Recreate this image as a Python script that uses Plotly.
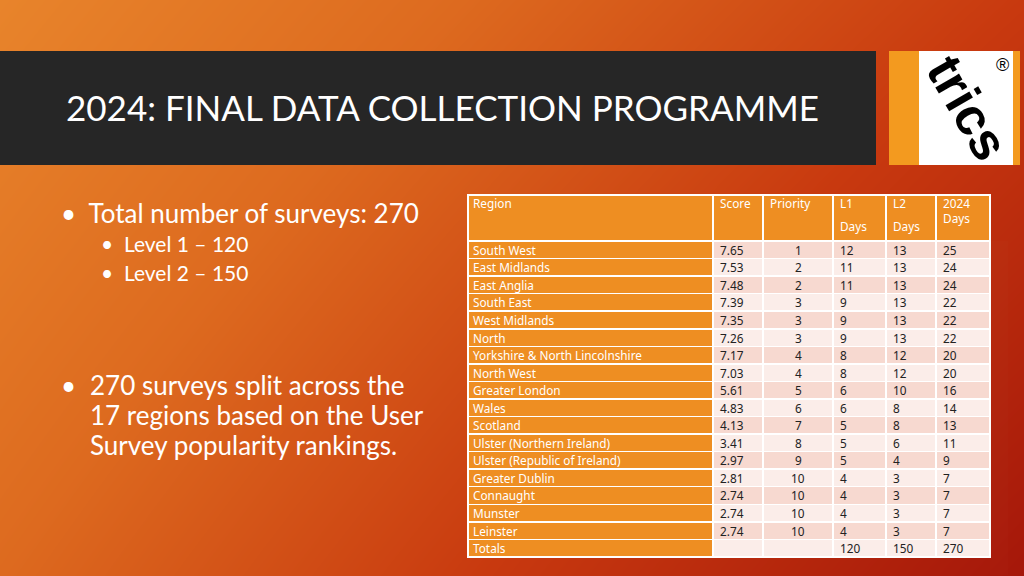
import plotly.graph_objects as go

# ---------------- data ----------------
regions = ["South West", "East Midlands", "East Anglia", "South East", "West Midlands", "North",
           "Yorkshire & North Lincolnshire", "North West", "Greater London", "Wales", "Scotland",
           "Ulster (Northern Ireland)", "Ulster (Republic of Ireland)", "Greater Dublin",
           "Connaught", "Munster", "Leinster"]
scores = ["7.65", "7.53", "7.48", "7.39", "7.35", "7.26", "7.17", "7.03", "5.61", "4.83", "4.13",
          "3.41", "2.97", "2.81", "2.74", "2.74", "2.74"]
priority = [1, 2, 2, 3, 3, 3, 4, 4, 5, 6, 7, 8, 9, 10, 10, 10, 10]
l1_days = [12, 11, 11, 9, 9, 9, 8, 8, 6, 6, 5, 5, 5, 4, 4, 4, 4]
l2_days = [13, 13, 13, 13, 13, 13, 12, 12, 10, 8, 8, 6, 4, 3, 3, 3, 3]
days_2024 = [25, 24, 24, 22, 22, 22, 20, 20, 16, 14, 13, 11, 9, 7, 7, 7, 7]
totals_label = "Totals"
totals = {"L1": 120, "L2": 150, "2024": 270}
header_top = ["Region", "Score", "Priority", "L1", "L2", "2024<br>Days"]
header_bottom = ["", "", "", "Days", "Days", ""]

title_text = "2024: FINAL DATA COLLECTION PROGRAMME"
bullets_main = ["Total number of surveys: 270"]
bullets_sub = ["Level 1 – 120", "Level 2 – 150"]
bullet_second = ["270 surveys split across the", "17 regions based on the User", "Survey popularity rankings."]

W, H = 1024, 576

def px(x):
    return x / W

def py(y):
    return 1 - y / H

fig = go.Figure()

# ---------------- background gradient ----------------
fig.add_trace(go.Heatmap(
    z=[[0.28, 1.0], [0.0, 0.62]], x=[0, 1], y=[0, 1],
    colorscale=[[0, "#E8842B"], [0.28, "#DD6A1F"], [0.62, "#C8390F"], [1, "#A5170A"]],
    zsmooth="best", showscale=False, hoverinfo="skip",
    xaxis="x", yaxis="y"))

# ---------------- table geometry ----------------
TBL_L, TBL_R, TBL_T = 468, 990, 195
HEAD_H, ROW_H = 46, 17.55
colw = [245, 50, 70, 53, 50, 54]
col_left = [sum(colw[:i]) for i in range(len(colw))]

n = len(regions)
col_region = regions + [totals_label]
col_score = scores + [""]
col_pri = [str(p) for p in priority] + [""]
col_l1 = [str(v) for v in l1_days] + [str(totals["L1"])]
col_l2 = [str(v) for v in l2_days] + [str(totals["L2"])]
col_24 = [str(v) for v in days_2024] + [str(totals["2024"])]
columns = [col_region, col_score, col_pri, col_l1, col_l2, col_24]

orange = "#EE8E22"
light_a = "#F7D9D0"
light_b = "#FBEDE9"
row_fill = [light_a if i % 2 == 0 else light_b for i in range(n)] + [light_b]

# cell fills and white rules
fig.add_trace(go.Table(
    domain=dict(x=[px(TBL_L), px(TBL_R)], y=[0, py(TBL_T)]),
    columnwidth=colw,
    header=dict(values=[""] * 6, fill_color=orange,
                line=dict(color="white", width=1.5), height=HEAD_H),
    cells=dict(values=[[""] * (n + 1)] * 6,
               fill_color=[[orange] * (n + 1)] + [row_fill] * 5,
               line=dict(color="white", width=1.5), height=ROW_H)))

annotations = []

# cell texts, placed on a pixel-mapped overlay axis (drawn above the table)
tfont = "Noto Sans"
TSIZE = 11.8
row_y = [TBL_T + HEAD_H + (i + 0.5) * ROW_H for i in range(n + 1)]
pads = [3, 5, None, 5, 5, 5]
for c, vals in enumerate(columns):
    for r, v in enumerate(vals):
        if v == "":
            continue
        if pads[c] is None:
            xv, xa = col_left[c] + colw[c] / 2, "center"
        else:
            xv, xa = col_left[c] + pads[c], "left"
        annotations.append(dict(
            text=v.replace("&", "&amp;"), x=xv, y=row_y[r], xref="x2", yref="y2",
            xanchor=xa, yanchor="middle", showarrow=False,
            font=dict(family=tfont, size=TSIZE, color="white" if c == 0 else "#222222")))

# header texts
for c in range(6):
    annotations.append(dict(
        text=header_top[c], x=col_left[c] + pads[c] if pads[c] else col_left[c] + 5, y=TBL_T - 2,
        xref="x2", yref="y2", xanchor="left", yanchor="top", showarrow=False,
        font=dict(family=tfont, size=TSIZE, color="white")))
    if header_bottom[c]:
        annotations.append(dict(
            text=header_bottom[c], x=col_left[c] + pads[c], y=TBL_T + 21,
            xref="x2", yref="y2", xanchor="left", yanchor="top", showarrow=False,
            font=dict(family=tfont, size=TSIZE, color="white")))

shapes = [
    # title bar
    dict(type="rect", xref="paper", yref="paper", x0=px(0), x1=px(876), y0=py(165), y1=py(51),
         fillcolor="#262626", line=dict(width=0), layer="above"),
    # logo
    dict(type="rect", xref="paper", yref="paper", x0=px(889), x1=px(1020), y0=py(165), y1=py(51),
         fillcolor="#F39A1F", line=dict(width=0), layer="above"),
    dict(type="rect", xref="paper", yref="paper", x0=px(919), x1=px(1013), y0=py(165), y1=py(51),
         fillcolor="white", line=dict(width=0), layer="above"),
]

annotations += [
    dict(text=title_text, x=px(64), y=py(107), xref="paper", yref="paper", xanchor="left",
         yanchor="middle", showarrow=False,
         font=dict(family="Lato", size=35, color="white")),
    dict(text="trics", x=px(968), y=py(108), xref="paper", yref="paper", showarrow=False,
         xanchor="center", yanchor="middle",
         textangle=60, font=dict(family="Liberation Sans", size=52, color="black", weight="bold")),
    dict(text="®", x=px(1002), y=py(65), xref="paper", yref="paper", showarrow=False,
         xanchor="center", yanchor="middle",
         font=dict(family="Liberation Sans", size=18, color="black")),
]

body_font = "Lato"
annotations.append(dict(text="•  " + bullets_main[0], x=px(59), y=py(213), xref="paper", yref="paper",
                        xanchor="left", yanchor="middle", showarrow=False,
                        font=dict(family=body_font, size=26, color="white")))
for i, t in enumerate(bullets_sub):
    annotations.append(dict(text="•  " + t, x=px(99), y=py(243 + 29 * i), xref="paper", yref="paper",
                            xanchor="left", yanchor="middle", showarrow=False,
                            font=dict(family=body_font, size=21, color="white")))
annotations.append(dict(text="•", x=px(59), y=py(385), xref="paper", yref="paper",
                        xanchor="left", yanchor="middle", showarrow=False,
                        font=dict(family=body_font, size=26, color="white")))
for i, t in enumerate(bullet_second):
    annotations.append(dict(text=t, x=px(88), y=py(385 + 30 * i), xref="paper", yref="paper",
                            xanchor="left", yanchor="middle", showarrow=False,
                            font=dict(family=body_font, size=26, color="white")))

fig.update_layout(
    width=W, height=H, margin=dict(l=0, r=0, t=0, b=0),
    paper_bgcolor="#D5561B", plot_bgcolor="rgba(0,0,0,0)",
    xaxis=dict(domain=[0, 1], range=[0, 1], visible=False, fixedrange=True),
    yaxis=dict(domain=[0, 1], range=[0, 1], visible=False, fixedrange=True),
    xaxis2=dict(domain=[px(TBL_L), px(TBL_R)], range=[0, sum(colw)], visible=False,
                fixedrange=True, anchor="y2"),
    yaxis2=dict(domain=[0, 1], range=[H, 0], visible=False, fixedrange=True, anchor="x2"),
    shapes=shapes, annotations=annotations, showlegend=False)

fig.write_html("out.html", config={"displayModeBar": False},
               post_script="document.body.style.margin='0';document.body.style.overflow='hidden';")
